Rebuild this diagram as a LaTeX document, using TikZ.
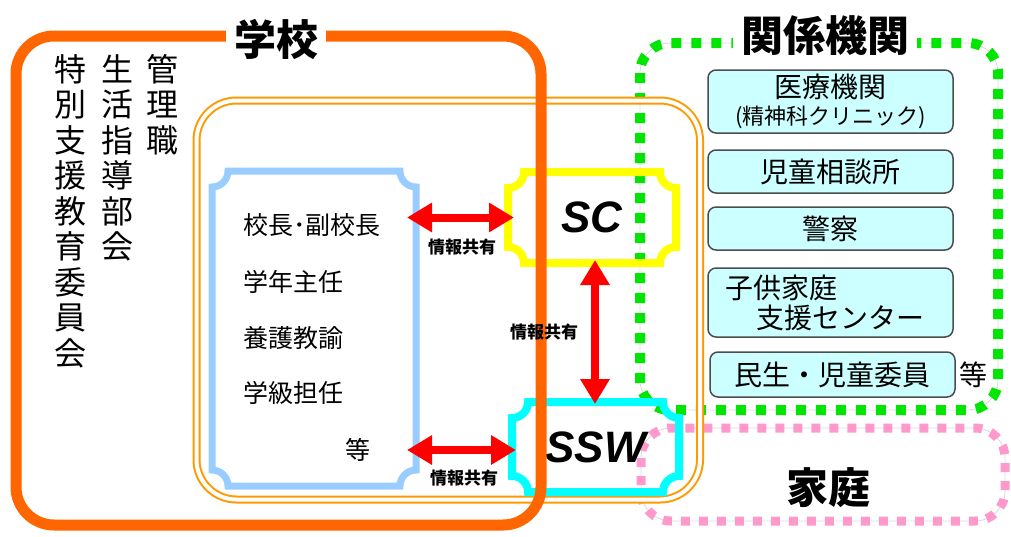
\documentclass[tikz,border=0pt]{standalone}
\usepackage{fontspec}
\setmainfont{Noto Sans CJK JP}
\newfontfamily\sclatin{Liberation Sans}
\usepackage{tikz}
\usetikzlibrary{calc,arrows.meta}
\usepackage{xcolor}
\definecolor{schoolorange}{RGB}{255,102,0}
\definecolor{ringorange}{RGB}{255,153,0}
\definecolor{staffblue}{RGB}{153,204,255}
\definecolor{scyellow}{RGB}{255,255,0}
\definecolor{sswcyan}{RGB}{0,255,255}
\definecolor{agencygreen}{RGB}{0,230,0}
\definecolor{homepink}{RGB}{255,153,204}
\definecolor{agencyfill}{RGB}{204,255,255}

\newcommand{\notchbox}[3]{%
	\draw[#1] ($(#2.north west)+(#3,0)$) -- ($(#2.north east)-(#3,0)$)
		arc[start angle=180,end angle=90,radius=#3] -- ($(#2.south east)-(0,#3)$)
		arc[start angle=270,end angle=180,radius=#3] -- ($(#2.south west)+(#3,0)$)
		arc[start angle=0,end angle=-90,radius=#3] -- ($(#2.north west)+(0,#3)$)
		arc[start angle=90,end angle=0,radius=#3] -- cycle;}

\begin{document}
\begin{tikzpicture}[x=1pt,y=-1pt,
	title/.style={fill=white,inner xsep=8pt,inner ysep=2pt,font=\fontsize{42}{42}\selectfont\bfseries},
	column/.style={anchor=north,align=center,inner sep=0pt,font=\fontsize{32}{35.5}\selectfont},
	holder/.style={inner sep=0pt,outer sep=0pt},
	bigtext/.style={font=\sclatin\fontsize{44}{44}\selectfont\bfseries\itshape},
	infoarrow/.style={red,line width=8pt,{Triangle[length=25pt,width=28pt]}-{Triangle[length=25pt,width=28pt]}},
	infolabel/.style={inner sep=0pt,text=black,font=\fontsize{17}{17}\selectfont\bfseries},
	agency/.style={draw=black!70,fill=agencyfill,line width=1.5pt,rounded corners=8pt,minimum width=245pt,inner sep=0pt,font=\fontsize{28}{30}\selectfont},
	member/.style={anchor=west,inner sep=0pt,font=\fontsize{25}{25}\selectfont}]

		\useasboundingbox (0,0) rectangle (1011,536);

		% home and agencies
		\draw[black!15,line width=0.8pt,rounded corners=30pt] (641,428) rectangle (1005,521);
		\draw[homepink,line width=9pt,dash pattern=on 9pt off 9pt,rounded corners=30pt] (641,428) rectangle (1005,521);
		\draw[black!15,line width=0.8pt,rounded corners=30pt] (640,43) rectangle (998,410);
		\draw[agencygreen,line width=10pt,dash pattern=on 10pt off 10pt,rounded corners=30pt] (640,43) rectangle (998,410);

		\draw[ringorange,line width=2pt,double=white,double distance=4pt,rounded corners=40pt] (196.5,100.5) rectangle (700,499.5);

		\node[holder,minimum width=204pt,minimum height=315pt] (staff) at (314,328.5) {};
		\node[holder,bigtext,minimum width=168pt,minimum height=91pt] (sc) at (592,217.5) {SC};
		\node[holder,bigtext,minimum width=167pt,minimum height=90pt] (ssw) at (595.5,447) {SSW};
		\notchbox{staffblue,line width=7pt}{staff}{16}
		\notchbox{scyellow,line width=8pt}{sc}{16}
		\notchbox{sswcyan,line width=8pt}{ssw}{16}

		\draw[schoolorange,line width=11pt,rounded corners=38pt] (16,36) rectangle (541,525);

		\node[title] (school) at (276,39) {学校};
		\node[title] (agencies) at (825,36) {関係機関};
		\node[title,fill=none] (home) at (828,488) {家庭};

		\node[column] (tokubetsu) at (70,54) {特\\別\\支\\援\\教\\育\\委\\員\\会};
		\node[column] (seikatsu) at (117,54) {生\\活\\指\\導\\部\\会};
		\node[column] (kanri) at (162,54) {管\\理\\職};

		\node[member] (principal) at (243,225) {校長･副校長};
		\node[member] (grade) at (243,282) {学年主任};
		\node[member] (nurse) at (243,338) {養護教諭};
		\node[member] (homeroom) at (243,393) {学級担任};
		\node[member,anchor=center] (staffetc) at (358,450) {等};

		\node[agency,minimum height=63pt,align=center] (medical) at (830.5,101.5) {医療機関\\[-3pt]\fontsize{22}{24}\selectfont(精神科クリニック)};
		\node[agency,minimum height=43pt] (jidou) at (830.5,171.5) {児童相談所};
		\node[agency,minimum height=43pt] (police) at (830.5,228.5) {警察};
		\node[agency,minimum height=69pt,align=left,text width=220pt] (kodomo) at (830.5,302.5) {\hspace*{5pt}子供家庭\\\hspace*{36pt}支援センター};
		\node[agency,minimum height=45pt] (minsei) at (832.5,374.5) {民生・児童委員};
		\node[anchor=west,inner sep=0pt,font=\fontsize{28}{28}\selectfont] (minseietc) at ($(minsei.east)+(4,0)$) {等};

		\draw[infoarrow,shorten <=-9pt,shorten >=-6pt] (sc.west -| staff.east) -- (sc.west) node[midway,below=17pt,infolabel] {情報共有};
		\draw[infoarrow,shorten <=-3pt,shorten >=-2pt] ($(sc.south)+(3,0)$) -- ($(sc.south |- ssw.north)+(3,0)$) node[midway,left=13pt,infolabel] {情報共有};
		\draw[infoarrow,shorten <=-9pt,shorten >=-4pt] ($(ssw.west -| staff.east)+(0,3)$) -- ($(ssw.west)+(0,3)$) node[midway,below=16pt,infolabel] {情報共有};
\end{tikzpicture}
\end{document}
